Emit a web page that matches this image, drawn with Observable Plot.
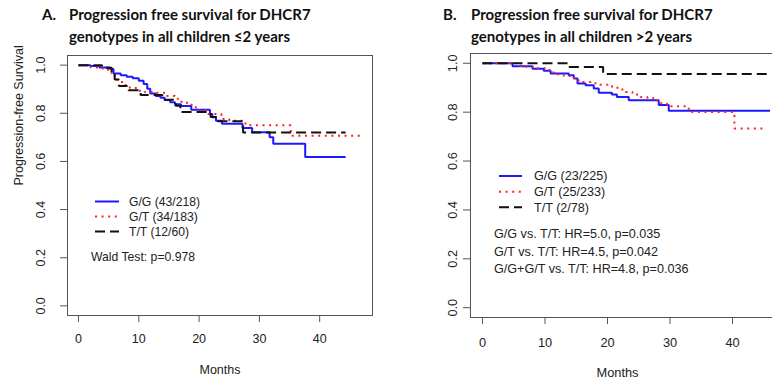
<!DOCTYPE html>
<html>
<head>
<meta charset="utf-8">
<script src="https://cdn.jsdelivr.net/npm/d3@7"></script>
<script src="https://cdn.jsdelivr.net/npm/@observablehq/plot@0.6"></script>
<style>
  body { margin: 0; background: #fff; }
  #wrap { position: relative; width: 772px; height: 384px; overflow: hidden; background: #fff; }
  .ttl { position: absolute; font-family: Lato, "Open Sans", sans-serif; font-weight: 700; font-size: 15px; color: #111; white-space: nowrap; line-height: 21.6px; }
  .panel { position: absolute; top: 0; }
  .panel svg { max-width: none !important; }
  #overlay { position: absolute; left: 0; top: 0; }
</style>
</head>
<body>
<div id="wrap">
  <div class="ttl" style="left:42px; top:4px;">A.</div>
  <div class="ttl" style="left:69px; top:4px;">Progression free survival for DHCR7<br>genotypes in all children ≤2 years</div>
  <div class="ttl" style="left:443px; top:4px;">B.</div>
  <div class="ttl" style="left:471px; top:4px;">Progression free survival for DHCR7<br>genotypes in all children &gt;2 years</div>
  <div class="panel" id="left" style="left:0px; width:386px;"></div>
  <div class="panel" id="right" style="left:400px; width:400px;"></div>
</div>
<script>
// ---------- data ----------
const xTicks = [0, 10, 20, 30, 40];
const yTicks = [0, 0.2, 0.4, 0.6, 0.8, 1.0];
const groups = ["G/G", "G/T", "T/T"];

// Panel A (<=2 years)
const aGG_t = [0, 2, 3.5, 5.2, 5.8, 7, 8, 9, 10, 10.8, 11.4, 11.9, 12.8, 13.6, 14.3, 15.2, 16, 17, 18.7, 21.8, 22.2, 22.8, 23.8, 27.2, 28.8, 31.7, 32.3, 37.6, 44.3];
const aGG_s = [1.0, 0.996, 0.99, 0.984, 0.965, 0.958, 0.952, 0.945, 0.935, 0.922, 0.902, 0.882, 0.872, 0.865, 0.855, 0.846, 0.838, 0.83, 0.815, 0.797, 0.783, 0.769, 0.756, 0.739, 0.721, 0.70, 0.673, 0.618, 0.618];
const aGT_t = [0, 2, 4, 5.5, 6, 6.5, 7.5, 8.5, 9.7, 11, 13, 14.5, 16, 17, 18, 19, 20, 21.5, 23.7, 25, 27.7, 35.2, 47];
const aGT_s = [1.0, 0.99, 0.981, 0.965, 0.95, 0.93, 0.917, 0.905, 0.894, 0.888, 0.885, 0.872, 0.86, 0.848, 0.835, 0.825, 0.812, 0.797, 0.776, 0.769, 0.75, 0.707, 0.707];
const aTT_t = [0, 3.9, 5.5, 6.0, 6.7, 8.3, 10.3, 13.9, 16.1, 16.9, 21.9, 23.0, 27.3, 44.3];
const aTT_s = [1.0, 0.989, 0.97, 0.94, 0.913, 0.896, 0.876, 0.856, 0.831, 0.805, 0.785, 0.767, 0.72, 0.72];
const aLegend = ["G/G (43/218)", "G/T (34/183)", "T/T (12/60)"];
const aNote = ["Wald Test: p=0.978"];

// Panel B (>2 years)
const bGG_t = [0, 4.8, 8.0, 9.8, 10.9, 13.8, 14.6, 15.2, 16.5, 17.8, 18.6, 20.7, 21.5, 23.4, 28.2, 29.8, 46];
const bGG_s = [1.0, 0.988, 0.978, 0.969, 0.958, 0.951, 0.938, 0.917, 0.91, 0.897, 0.879, 0.872, 0.862, 0.849, 0.829, 0.806, 0.806];
const bGT_t = [0, 5.5, 7, 8.5, 10, 11, 12, 13, 14, 15, 16, 17.3, 18.5, 20, 21, 22, 22.9, 24, 25.3, 26.4, 28, 29.5, 33, 40.3, 45.3];
const bGT_s = [1.0, 0.99, 0.985, 0.98, 0.973, 0.962, 0.955, 0.948, 0.94, 0.93, 0.923, 0.918, 0.912, 0.905, 0.9, 0.893, 0.883, 0.872, 0.862, 0.857, 0.836, 0.824, 0.801, 0.733, 0.733];
const bTT_t = [0, 13.8, 19.3, 46];
const bTT_s = [1.0, 0.985, 0.956, 0.956];
const bLegend = ["G/G (23/225)", "G/T (25/233)", "T/T (2/78)"];
const bNote = ["G/G vs. T/T: HR=5.0, p=0.035", "G/T vs. T/T: HR=4.5, p=0.042", "G/G+G/T vs. T/T: HR=4.8, p=0.036"];

// ---------- styles ----------
const styles = {
  "G/G": {stroke: "#1a1aff", strokeDasharray: null, strokeLinecap: "butt"},
  "G/T": {stroke: "#ff2020", strokeDasharray: "2,4.6", strokeLinecap: "butt"},
  "T/T": {stroke: "#111", strokeDasharray: "10,5", strokeLinecap: "butt"}
};
const textColor = "#222";
const boxColor = "#555";

function series(t, s) { return t.map((d, i) => ({t: d, s: s[i]})); }

function panel({curves, xDomain, width, mL, mR, mT, mB, tickLabDx, tickPad, fs, ylabel, monthsDx, monthsDy}) {
  const marks = [
    Plot.frame({stroke: boxColor, strokeWidth: 1})
  ];
  curves.forEach(([g, data]) => {
    const st = styles[g];
    marks.push(Plot.line(data, {x: "t", y: "s", curve: "step-after", stroke: st.stroke, strokeWidth: 2,
      strokeDasharray: st.strokeDasharray, strokeLinecap: st.strokeLinecap, strokeLinejoin: "miter"}));
  });
  marks.push(
    Plot.axisX({ticks: xTicks, tickSize: 7, tickPadding: tickPad, label: null, stroke: boxColor, fill: textColor, tickFormat: d => d}),
    Plot.axisY({ticks: yTicks, tickSize: 7, label: null, stroke: boxColor, tickFormat: () => ""}),
    Plot.text(yTicks, {y: d => d, text: d => d.toFixed(1), frameAnchor: "left", dx: tickLabDx, rotate: -90,
      textAnchor: "middle", lineAnchor: "middle", fill: textColor}),
    Plot.text(["Months"], {text: d => d, frameAnchor: "bottom", dy: monthsDy, dx: monthsDx, lineAnchor: "middle", fill: textColor})
  );
  if (ylabel) {
    marks.push(Plot.text([ylabel], {text: d => d, frameAnchor: "left", dx: -49, rotate: -90, lineAnchor: "middle", fill: textColor}));
  }
  return Plot.plot({
    width, height: 384,
    marginLeft: mL, marginRight: mR, marginTop: mT, marginBottom: mB,
    x: {domain: xDomain},
    y: {domain: [-0.04, 1.04]},
    style: {background: "transparent", fontFamily: "'Liberation Sans', Arial, sans-serif", fontSize: fs + "px", color: textColor, overflow: "visible", maxWidth: "none"},
    marks
  });
}

document.getElementById("left").appendChild(panel({
  curves: [["G/G", series(aGG_t, aGG_s)], ["G/T", series(aGT_t, aGT_s)], ["T/T", series(aTT_t, aTT_s)]],
  xDomain: [-1.824, 48.76], width: 386, mL: 67, mR: 14, mT: 55, mB: 69,
  tickLabDx: -27, tickPad: 12, fs: 12.5, ylabel: "Progression-free Survival", monthsDx: 0, monthsDy: 54
}));
document.getElementById("right").appendChild(panel({
  curves: [["G/G", series(bGG_t, bGG_s)], ["G/T", series(bGT_t, bGT_s)], ["T/T", series(bTT_t, bTT_s)]],
  xDomain: [-1.92, 49.92], width: 400, mL: 70, mR: 6, mT: 53, mB: 67,
  tickLabDx: -18, tickPad: 13, fs: 12.8, ylabel: null, monthsDx: -15, monthsDy: 55
}));

// ---------- legends (overlay) ----------
const ov = d3.select("#wrap").append("svg").attr("id", "overlay").attr("width", 772).attr("height", 384)
  .style("font-family", "'Liberation Sans', Arial, sans-serif").style("fill", textColor);

function legend({labels, x0, x1, tx, ys, fs, notes, nx, nys}) {
  labels.forEach((lab, i) => {
    const st = styles[groups[i]];
    ov.append("line").attr("x1", x0).attr("x2", x1).attr("y1", ys[i]).attr("y2", ys[i])
      .attr("stroke", st.stroke).attr("stroke-width", 2).attr("stroke-dasharray", st.strokeDasharray);
    ov.append("text").attr("x", tx).attr("y", ys[i]).attr("dy", "0.35em").attr("font-size", fs).text(lab);
  });
  notes.forEach((n, i) => {
    ov.append("text").attr("x", nx).attr("y", nys[i]).attr("dy", "0.35em").attr("font-size", fs).text(n);
  });
}
legend({labels: aLegend, x0: 95, x1: 119, tx: 129, ys: [201.5, 216.5, 231.5], fs: 12.2,
  notes: aNote, nx: 91, nys: [257]});
legend({labels: bLegend, x0: 499, x1: 522, tx: 534, ys: [176, 191.7, 207.3], fs: 12.6,
  notes: bNote, nx: 494, nys: [234, 251.2, 268.4]});
</script>
</body>
</html>
